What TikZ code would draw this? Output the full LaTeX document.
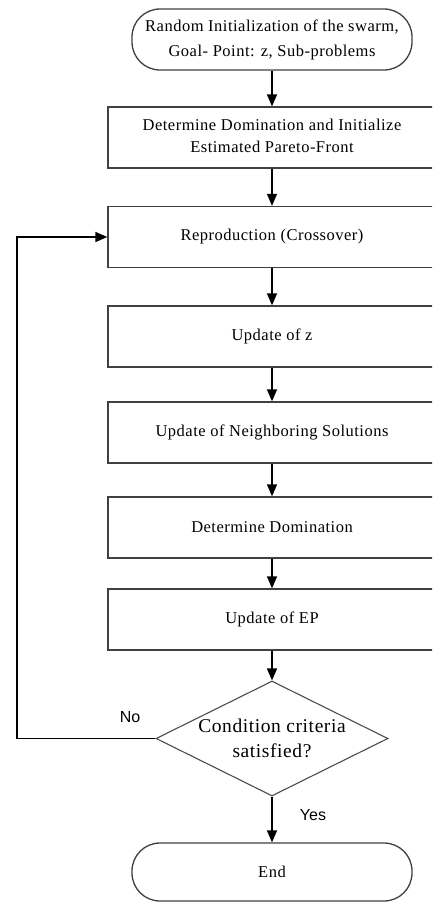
\documentclass[tikz,border=0pt]{standalone}
\usepackage{fontspec}
\setmainfont{Liberation Serif}
\newfontfamily\labelfont{Liberation Sans}
\newfontfamily\spacedfont[LetterSpace=3]{Liberation Serif}
\usetikzlibrary{shapes.geometric,arrows.meta}
\tikzset{
  stepbox/.style={draw=black!75, line width=1.3pt, minimum width=328pt, minimum height=61pt,
    inner sep=0pt, align=center, font=\spacedfont\fontsize{16.5}{22}\selectfont},
  terminal/.style={draw=black!75, line width=1.3pt, rounded corners=28pt, minimum width=280pt,
    minimum height=61pt, inner sep=0pt, align=center, font=\spacedfont\fontsize{16.5}{25}\selectfont},
  decision/.style={draw=black!70, line width=1.1pt, diamond, aspect=2.02, minimum width=232pt,
    minimum height=115pt, inner sep=0pt, align=center, font=\spacedfont\fontsize{19.5}{25}\selectfont},
  flow/.style={line width=1.4pt, -{Triangle[length=12pt,width=10pt]}},
  answer/.style={font=\labelfont\fontsize{16}{18}\selectfont}
}
\begin{document}
\begin{tikzpicture}[x=1pt,y=-1pt]
  \clip (0,0) rectangle (432,902);
  \useasboundingbox (0,0) rectangle (432,902);

  \node[terminal] (start) at (272,39.5) {Random Initialization of the swarm,\\Goal- Point: z, Sub-problems};
  \node[stepbox] (dom) at (272,137.5) {Determine Domination and Initialize\\Estimated Pareto-Front\vphantom{g}};
  \node[stepbox] (repro) at (272,237) {Reproduction (Crossover)};
  \node[stepbox] (upz) at (272,336.5) {Update of z};
  \node[stepbox] (neigh) at (272,432.5) {Update of Neighboring Solutions};
  \node[stepbox] (dom2) at (272,527.5) {Determine Domination};
  \node[stepbox] (upep) at (272,619.5) {Update of EP};
  \node[decision] (cond) at (272,738.5) {Condition criteria\\satisfied?};
  \node[terminal, minimum height=58pt] (fin) at (272,872) {End};

  \coordinate (back) at (17,738.5);
  \coordinate (up) at (17,237);

  \draw[flow] (start) -- (dom);
  \draw[flow] (dom) -- (repro);
  \draw[flow] (repro) -- (upz);
  \draw[flow] (upz) -- (neigh);
  \draw[flow] (neigh) -- (dom2);
  \draw[flow] (dom2) -- (upep);
  \draw[flow] (upep) -- (cond);
  \draw[flow] (cond) -- (fin);
  \draw[flow] (cond.west) -- (back) -- (up) -- (repro.west);

  \node[answer] (no) at (130,717) {No};
  \node[answer] (yes) at (313,815) {Yes};
\end{tikzpicture}
\end{document}
